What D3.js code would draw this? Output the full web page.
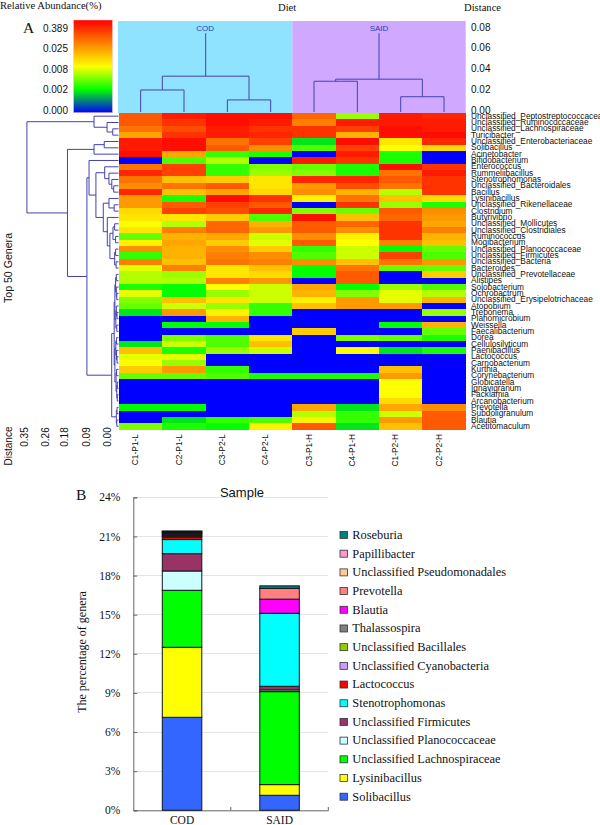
<!DOCTYPE html>
<html><head><meta charset="utf-8">
<script src="https://cdn.jsdelivr.net/npm/d3@7/dist/d3.min.js"></script>
<style>html,body{margin:0;padding:0;background:#fff}svg{display:block}</style>
</head><body><svg id="c" width="600" height="825"></svg>
<script>
const samples = ["C1-P1-L","C2-P1-L","C3-P2-L","C4-P2-L","C3-P1-H","C4-P1-H","C1-P2-H","C2-P2-H"];
const dietGroups = ["COD","SAID"];
const genera = ["Unclassified_Peptostreptococcaceae","Unclassified_Ruminococcaceae","Unclassified_Lachnospiraceae","Turicibacter","Unclassified_Enterobacteriaceae","Solibacillus","Acinetobacter","Bifidobacterium","Enterococcus","Rummeliibacillus","Stenotrophomonas","Unclassified_Bacteroidales","Bacillus","Lysinibacillus","Unclassified_Rikenellaceae","Clostridium","Butyrivibrio","Unclassified_Mollicutes","Unclassified_Clostridiales","Ruminococcus","Mogibacterium","Unclassified_Planococcaceae","Unclassified_Firmicutes","Unclassified_Bacteria","Bacteroides","Unclassified_Prevotellaceae","Alistipes","Solobacterium","Ochrobactrum","Unclassified_Erysipelotrichaceae","Atopobium","Treponema","Planomicrobium","Weissella","Faecalibacterium","Dorea","Cellulosilyticum","Paenibacillus","Lactococcus","Carnobacterium","Kurthia","Corynebacterium","Globicatella","Ignavigranum","Facklamia","Arcanobacterium","Prevotella","Subdoligranulum","Blautia","Acetitomaculum"];
// abundance: 0 = 0.000, 10 = 0.002, 20 = 0.008, 30 = 0.025, 40 = 0.389
const heatLevels = [
[33,38,39,39,32,16,38,37],[33,36,39,38,30,38,38,38],[31,34,38,36,36,35,39,38],[27,36,38,37,36,26,39,39],
[38,39,31,35,9,39,22,37],[38,39,33,29,13,35,20,23],[39,27,12,11,0,38,11,0],[0,13,17,0,38,36,11,0],
[31,35,12,15,14,11,39,36],[37,35,12,16,15,11,31,38],[31,25,24,22,37,37,33,36],[29,31,33,22,28,34,31,36],
[37,25,27,23,29,26,17,36],[28,11,39,36,21,31,25,23],[28,33,35,33,0,36,16,11],[23,35,34,37,15,14,33,29],
[22,22,24,13,39,25,32,28],[20,17,32,26,33,32,36,27],[22,30,32,28,33,29,36,30],[14,26,27,18,29,21,36,26],
[21,27,24,19,33,20,30,25],[29,26,29,24,12,18,10,14],[12,26,30,29,13,18,35,13],[30,25,31,30,29,25,31,28],
[19,30,22,25,10,31,14,14],[17,16,22,23,10,33,0,24],[17,17,30,28,0,33,0,0],[11,10,20,18,27,10,16,13],
[19,10,16,18,26,15,19,17],[15,25,22,18,21,28,19,26],[14,18,16,12,25,28,28,0],[9,28,21,12,0,0,0,16],
[0,0,26,0,0,0,0,0],[0,10,10,0,0,0,10,26],[0,0,0,0,24,0,0,14],[0,15,13,22,0,15,14,11],
[9,18,13,25,0,0,0,0],[25,11,16,18,0,20,9,11],[19,19,0,0,0,0,0,0],[20,16,0,0,0,0,0,0],
[24,28,12,0,0,0,25,0],[14,14,13,11,11,11,28,0],[0,0,0,0,0,0,20,0],[0,0,0,0,0,0,20,0],
[0,0,0,0,0,0,20,0],[0,0,0,0,0,0,23,0],[10,10,0,0,27,9,27,29],[0,0,0,0,17,12,18,33],
[0,9,12,13,21,12,28,33],[15,11,10,21,33,9,25,33]];
const keyLevels = [0,10,20,30,40];
const keyColours = ["#0000ff","#00ff00","#ffff00","#ff8000","#ff0000"];
const keyLabels = ["0.000","0.002","0.008","0.025","0.389"];
// [merge distance, child, child]; leaves are 1-based row or column numbers
const rowTree = [.382,
 [.099,1,[.044,2,[.02,3,4]]],
 [.211,
  [.099,[.056,5,6],7],
  [.129,
   [.12,8,
    [.091,
     [.054,9,[.036,10,[.024,11,[.016,12,13]]]],
     [.06,
      [.036,14,[.014,15,16]],
      [.043,17,
       [.032,
        [.019,[.012,18,19],[.008,20,21]],
        [.012,[.008,22,23],[.006,24,25]]]]]]],
   [.0245,
    [.014,
     [.011,[.008,[.005,26,27],[.005,28,[.003,29,30]]],[.007,[.005,31,[.002,32,33]],[.003,34,35]]],
     [.011,[.007,[.004,36,37],[.004,38,[.002,39,40]]],[.006,[.004,41,42],[.003,[.001,43,44],[.001,45,46]]]]],
    [.005,[.002,47,48],[.003,49,50]]]]]];
const codTree = [.0326,[.0193,1,2],[.0097,3,4]];
const saidTree = [.0297,[.0277,5,6],[.0128,7,8]];
const stemTop = .074;
const columnDistanceTicks = [0,.02,.04,.06,.08];
const rowDistanceTicks = [0,.09,.18,.26,.35];

const barGroups = ["COD","SAID"];
const barSeries = ["Solibacillus","Lysinibacillus","Unclassified Lachnospiraceae","Unclassified Planococcaceae","Unclassified Firmicutes","Stenotrophomonas","Lactococcus","Unclassified Cyanobacteria","Unclassified Bacillales","Thalassospira","Blautia","Prevotella","Unclassified Pseudomonadales","Papillibacter","Roseburia"];
const barColours = ["#3366ff","#ffff00","#00ff00","#ccffff","#993366","#00ffff","#ff0000","#cc99ff","#99cc00","#808080","#ff00ff","#ff8080","#ffcc99","#ff99cc","#008080"];
const codValues = [7.13,5.37,4.37,1.48,1.33,1.08,.18,.08,.08,.08,.06,.05,.05,.04,.04];
const saidValues = [1.15,.82,7.13,.13,.28,5.6,0,0,0,0,1.08,.82,0,0,.2];
const percentTicks = [0,3,6,9,12,15,18,21,24];

const svg = d3.select("#c");
const SANS = "'Liberation Sans',Arial,sans-serif", SERIF = "'Liberation Serif','Times New Roman',serif";
const txt = (s,x,y,size,fam,fill="#111") => svg.append("text").attr("x",x).attr("y",y).attr("font-size",size).attr("font-family",fam).attr("fill",fill).text(s);
const rotTxt = (s,x,y,size,fam,anchor="middle") => svg.append("text").attr("transform",`translate(${x},${y}) rotate(-90)`).attr("text-anchor",anchor).attr("font-size",size).attr("font-family",fam).attr("fill","#111").text(s);

// headers
txt("Relative Abundance(%)",0,9,10.6,SERIF);
txt("Diet",278,11,10.6,SERIF);
txt("Distance",464,11,10.6,SERIF);
txt("A",23,33,15.5,SERIF);
txt("B",76,500,15.5,SERIF);

// scales
const heatX = d3.scaleBand().domain(samples).range([119,465.7]);
const heatY = d3.scaleBand().domain(genera).range([113,429.5]);
const colour = d3.scaleLinear().domain(keyLevels).range(keyColours).clamp(true);

// colour key
const keyY = d3.scalePoint().domain(keyLabels).range([110,28]);
const grad = svg.append("defs").append("linearGradient").attr("id","key").attr("x1",0).attr("y1",1).attr("x2",0).attr("y2",0);
keyLevels.forEach((l,i)=>grad.append("stop").attr("offset",l/40).attr("stop-color",keyColours[i]));
svg.append("rect").attr("x",73.5).attr("y",20).attr("width",39).attr("height",92.7).attr("fill","url(#key)").attr("stroke","#f3c8d0").attr("stroke-width",.5);
const keyAxis = svg.append("g").attr("transform","translate(70,0)").call(d3.axisLeft(keyY).tickSize(0).tickPadding(2));
keyAxis.select(".domain").remove();
keyAxis.selectAll("text").attr("font-size",10).attr("font-family",SANS).attr("fill","#111");

// diet panels
[[dietGroups[0],samples.slice(0,4),"#90e3ff"],[dietGroups[1],samples.slice(4),"#d0a8ff"]].forEach(([g,cols,f])=>{
  const x0 = heatX(cols[0]) - (g==="COD"?1:0), x1 = heatX(cols[3])+heatX.bandwidth();
  svg.append("rect").attr("x",x0).attr("y",21).attr("width",x1-x0).attr("height",92).attr("fill",f);
  svg.append("text").attr("x",(x0+x1)/2).attr("y",30.5).attr("text-anchor","middle").attr("font-size",8).attr("font-family",SANS).attr("fill","#2a3fb0").text(g);
});

// heatmap
svg.append("g").attr("shape-rendering","crispEdges").selectAll("g").data(heatLevels).join("g")
  .attr("transform",(d,i)=>`translate(0,${heatY(genera[i])})`)
  .selectAll("rect").data(d=>d).join("rect")
  .attr("x",(d,i)=>heatX(samples[i])).attr("width",heatX.bandwidth()+.5).attr("height",heatY.bandwidth()+.5)
  .attr("fill",d=>colour(d));

// row labels
const rowAxis = svg.append("g").attr("transform","translate(466,0)").call(d3.axisRight(heatY).tickSize(0).tickPadding(5));
rowAxis.select(".domain").remove();
rowAxis.selectAll("text").attr("font-size",8.3).attr("font-family",SANS).attr("fill","#111");

// column labels
samples.forEach(s=>rotTxt(s,heatX(s)+heatX.bandwidth()/2-2.5,434,8.4,SANS,"end"));

// column dendrograms
const topDist = d3.scaleLinear().domain([0,.08]).range([110,27]);
const colAxis = svg.append("g").attr("transform","translate(466,0)").call(d3.axisRight(topDist).tickValues(columnDistanceTicks).tickFormat(d3.format(".2f")).tickSize(0).tickPadding(5));
colAxis.select(".domain").remove();
colAxis.selectAll("text").attr("font-size",10).attr("font-family",SANS).attr("fill","#111");

const LINE = "#4242b0";
const colG = svg.append("g").attr("stroke",LINE).attr("fill","none").attr("stroke-width",1);
const colLeafX = n => heatX(samples[n-1])+heatX.bandwidth()/2;
function drawCol(node){
  if(!Array.isArray(node)) return {x:colLeafX(node), y:112};
  const [d,a,b]=node, A=drawCol(a), B=drawCol(b), y=topDist(d);
  colG.append("path").attr("d",`M${A.x},${A.y}V${y}H${B.x}V${B.y}`);
  return {x:(A.x+B.x)/2,y};
}
[codTree,saidTree].forEach(t=>{ const r=drawCol(t); colG.append("path").attr("d",`M${r.x},${r.y}V${topDist(stemTop)}`); });

// row dendrogram
const leftDist = d3.scaleLinear().domain([0,.35]).range([117.5,34.5]);
const rowG = svg.append("g").attr("stroke",LINE).attr("fill","none").attr("stroke-width",1);
function drawRow(node){
  if(!Array.isArray(node)) return {x:118.5, y:heatY(genera[node-1])+heatY.bandwidth()/2};
  const [d,a,b]=node, A=drawRow(a), B=drawRow(b), x=leftDist(d);
  rowG.append("path").attr("d",`M${A.x},${A.y}H${x}V${B.y}H${B.x}`);
  return {x,y:(A.y+B.y)/2};
}
drawRow(rowTree);

rotTxt("Top 50 Genera",12,268,10.6,SANS);
rotTxt("Distance",12,446,10,SANS);
rowDistanceTicks.forEach(t=>rotTxt(t.toFixed(2),leftDist(t)-6.5,437,10,SANS));

// stacked bars
const bx = d3.scaleBand().domain(barGroups).range([133.3,328.3]);
const by = d3.scaleLinear().domain([0,24]).range([810.3,497.3]);
const barRows = barGroups.map((g,i)=>{ const r={group:g}; barSeries.forEach((s,j)=>r[s]=(i?saidValues:codValues)[j]); return r; });
const stacked = d3.stack().keys(barSeries)(barRows);

const gridG = svg.append("g").attr("stroke","#e4e4e4").attr("shape-rendering","crispEdges");
percentTicks.slice(1).forEach(t=>gridG.append("line").attr("x1",133.3).attr("x2",328.3).attr("y1",by(t)).attr("y2",by(t)));

const yAx = svg.append("g").attr("transform","translate(133.3,0)").call(d3.axisLeft(by).tickValues(percentTicks).tickFormat(d=>d+"%").tickSize(-4).tickPadding(13));
yAx.select(".domain").attr("stroke","#666");
yAx.selectAll("line").attr("stroke","#666");
yAx.selectAll("text").attr("font-size",11.5).attr("font-family",SERIF).attr("fill","#111");

const xAx = svg.append("g").attr("transform","translate(0,810.3)").call(d3.axisBottom(bx).tickSize(0).tickPadding(6));
xAx.select(".domain").attr("stroke","#666");
xAx.selectAll("text").attr("font-size",11.5).attr("font-family",SERIF).attr("fill","#111");
svg.append("g").selectAll("line").data(bx.range().slice(1).concat([bx.step()+bx.range()[0]])).join("line")
  .attr("x1",d=>d).attr("x2",d=>d).attr("y1",810.3).attr("y2",807).attr("stroke","#666");

const barW = 39.5;
svg.append("g").selectAll("g").data(stacked).join("g").attr("fill",(d,i)=>barColours[i])
 .selectAll("rect").data(d=>d.filter(v=>v[1]-v[0]>0)).join("rect")
 .attr("x",d=>bx(d.data.group)+bx.bandwidth()/2-barW/2).attr("width",barW)
 .attr("y",d=>by(d[1])).attr("height",d=>by(d[0])-by(d[1]))
 .attr("stroke","#101418").attr("stroke-width",1);

svg.append("text").attr("x",242).attr("y",497).attr("text-anchor","middle").attr("font-size",13).attr("font-family",SANS).attr("fill","#111").text("Sample");
rotTxt("The percentage of genera",86,652,12,SERIF);

// legend
const legY = d3.scalePoint().domain(barSeries).range([796.7,535]);
const leg = svg.append("g").selectAll("g").data(barSeries).join("g").attr("transform",d=>`translate(340,${legY(d)})`);
leg.append("rect").attr("y",-3.5).attr("width",7.5).attr("height",7).attr("fill",(d,i)=>barColours[i]).attr("stroke","#333").attr("stroke-width",.8);
leg.append("text").attr("x",12.3).attr("y",3.8).attr("font-size",12.4).attr("font-family",SERIF).attr("fill","#111").text(d=>d);
</script></body></html>
